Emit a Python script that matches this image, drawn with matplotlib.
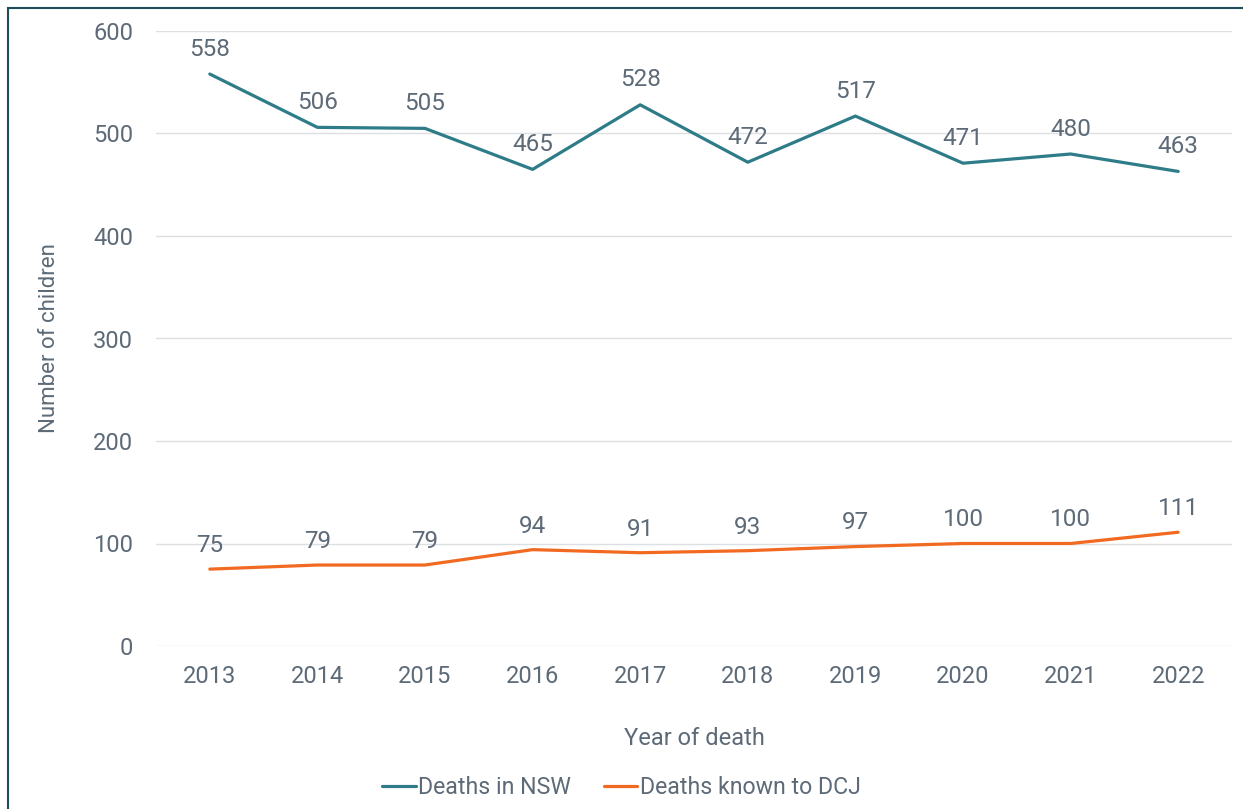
import matplotlib.pyplot as plt
from matplotlib.patches import Rectangle

# Child deaths by year
years = ["2013", "2014", "2015", "2016", "2017", "2018", "2019", "2020", "2021", "2022"]
deaths_nsw = [558, 506, 505, 465, 528, 472, 517, 471, 480, 463]
deaths_dcj = [75, 79, 79, 94, 91, 93, 97, 100, 100, 111]

teal = "#2e7c88"
orange = "#f26a21"
grey_txt = "#5d6a77"

plt.rcParams["font.family"] = ["Roboto", "DejaVu Sans"]

fig = plt.figure(figsize=(12.43, 8.09), dpi=100)
ax = fig.add_axes([156 / 1243, 1 - 646 / 809, (1232 - 156) / 1243, (646 - 31) / 809])

x = list(range(len(years)))
ax.plot(x, deaths_nsw, color=teal, lw=2.3, label="Deaths in NSW", solid_capstyle="round")
ax.plot(x, deaths_dcj, color=orange, lw=2.3, label="Deaths known to DCJ", solid_capstyle="round")

for xi, v in zip(x, deaths_nsw):
    ax.annotate(str(v), (xi, v), xytext=(0, 18), textcoords="offset points",
                ha="center", va="center", fontsize=17.5, color=grey_txt)
for xi, v in zip(x, deaths_dcj):
    ax.annotate(str(v), (xi, v), xytext=(0, 17), textcoords="offset points",
                ha="center", va="center", fontsize=17.5, color=grey_txt)

ax.set_xlim(-0.5, len(years) - 0.5)
ax.set_ylim(0, 600)
ax.set_yticks(range(0, 601, 100))
ax.set_xticks(x)
ax.set_xticklabels(years)
ax.grid(axis="y", color="#dcdfe3", lw=1)
ax.set_axisbelow(True)
for s in ax.spines.values():
    s.set_visible(False)
ax.tick_params(length=0, labelsize=17, labelcolor=grey_txt)
ax.tick_params(axis="y", pad=16.5)
ax.tick_params(axis="x", pad=14)

ax.set_xlabel("Year of death", fontsize=17, color=grey_txt, labelpad=28)
ax.set_ylabel("Number of children", fontsize=16, color=grey_txt, labelpad=24)

fig.legend(loc="center", bbox_to_anchor=(0.5, 1 - 788 / 809), ncol=2, frameon=False,
           fontsize=16.7, labelcolor=grey_txt, handlelength=1.45, handletextpad=0.12,
           columnspacing=1.4)

# thin frame round the chart
fig.patches.append(Rectangle((8 / 1243, -0.02), 1.1, 1 - 8 / 809 + 0.02,
                             transform=fig.transFigure, fill=False,
                             edgecolor="#1d4d58", lw=1.5))

fig.savefig("out.png", dpi=100)
